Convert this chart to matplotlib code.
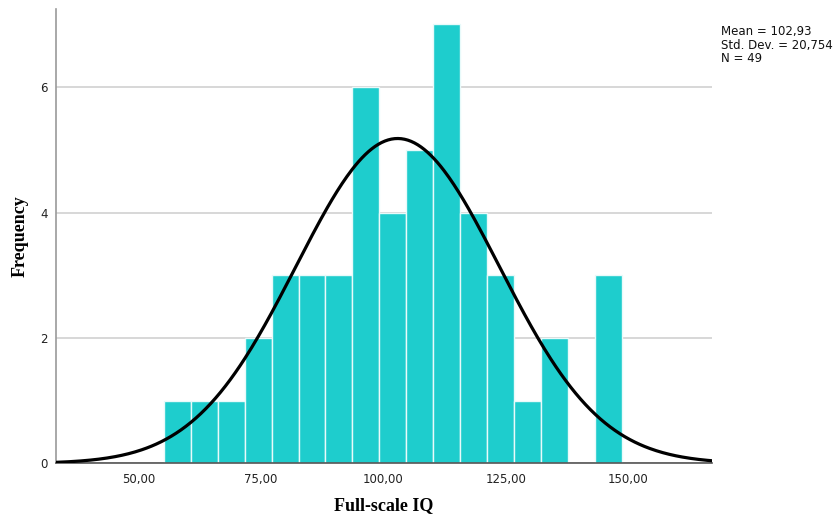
import matplotlib.pyplot as plt
import numpy as np

# bin edges and counts
bin_start = 55.2
bin_width = 5.5
counts = [1, 1, 1, 2, 3, 3, 3, 6, 4, 5, 7, 4, 3, 1, 2, 0, 3]

mean = 102.93
sd = 20.754
n = 49

BAR_COLOR = '#1ECDCD'

fig = plt.figure(figsize=(8.35, 5.23), dpi=100)
ax = fig.add_axes([0.0671, 0.1138, 0.7856, 0.8684])

edges = bin_start + bin_width * np.arange(len(counts) + 1)
ax.bar(edges[:-1], counts, width=bin_width, align='edge',
       color=BAR_COLOR, edgecolor='#E8FAFA', linewidth=1.0, zorder=2)

# normal curve from the displayed stats
xs = np.linspace(33.2, 167.1, 400)
ys = n * bin_width / (sd * np.sqrt(2 * np.pi)) * np.exp(-0.5 * ((xs - mean) / sd) ** 2)
ax.plot(xs, ys, color='black', linewidth=2.3, zorder=3)

ax.set_xlim(33.2, 167.1)
ax.set_ylim(0, 7.24)

ax.set_xticks([50, 75, 100, 125, 150])
ax.set_xticklabels(['50,00', '75,00', '100,00', '125,00', '150,00'])
ax.set_yticks([0, 2, 4, 6])
ax.tick_params(length=0, labelsize=8.5, colors='#222222')
ax.tick_params(axis='x', pad=7)
ax.tick_params(axis='y', pad=6)

ax.yaxis.grid(True, color='#D4D4D4', linewidth=1.3, zorder=0)
ax.set_axisbelow(True)

for s in ['top', 'right']:
    ax.spines[s].set_visible(False)
ax.spines['left'].set_color('#9A9A9A')
ax.spines['left'].set_linewidth(1.2)
ax.spines['bottom'].set_color('#555555')
ax.spines['bottom'].set_linewidth(1.2)

ax.set_xlabel('Full-scale IQ', family='Liberation Serif', fontweight='bold',
              fontsize=13, labelpad=8)
ax.set_ylabel('Frequency', family='Liberation Serif', fontweight='bold',
              fontsize=13, labelpad=8)

fig.text(0.864, 0.952, 'Mean = 102,93\nStd. Dev. = 20,754\nN = 49',
         fontsize=8.5, va='top', ha='left', linespacing=1.05, color='#111111')

fig.savefig('out.png', dpi=100)
